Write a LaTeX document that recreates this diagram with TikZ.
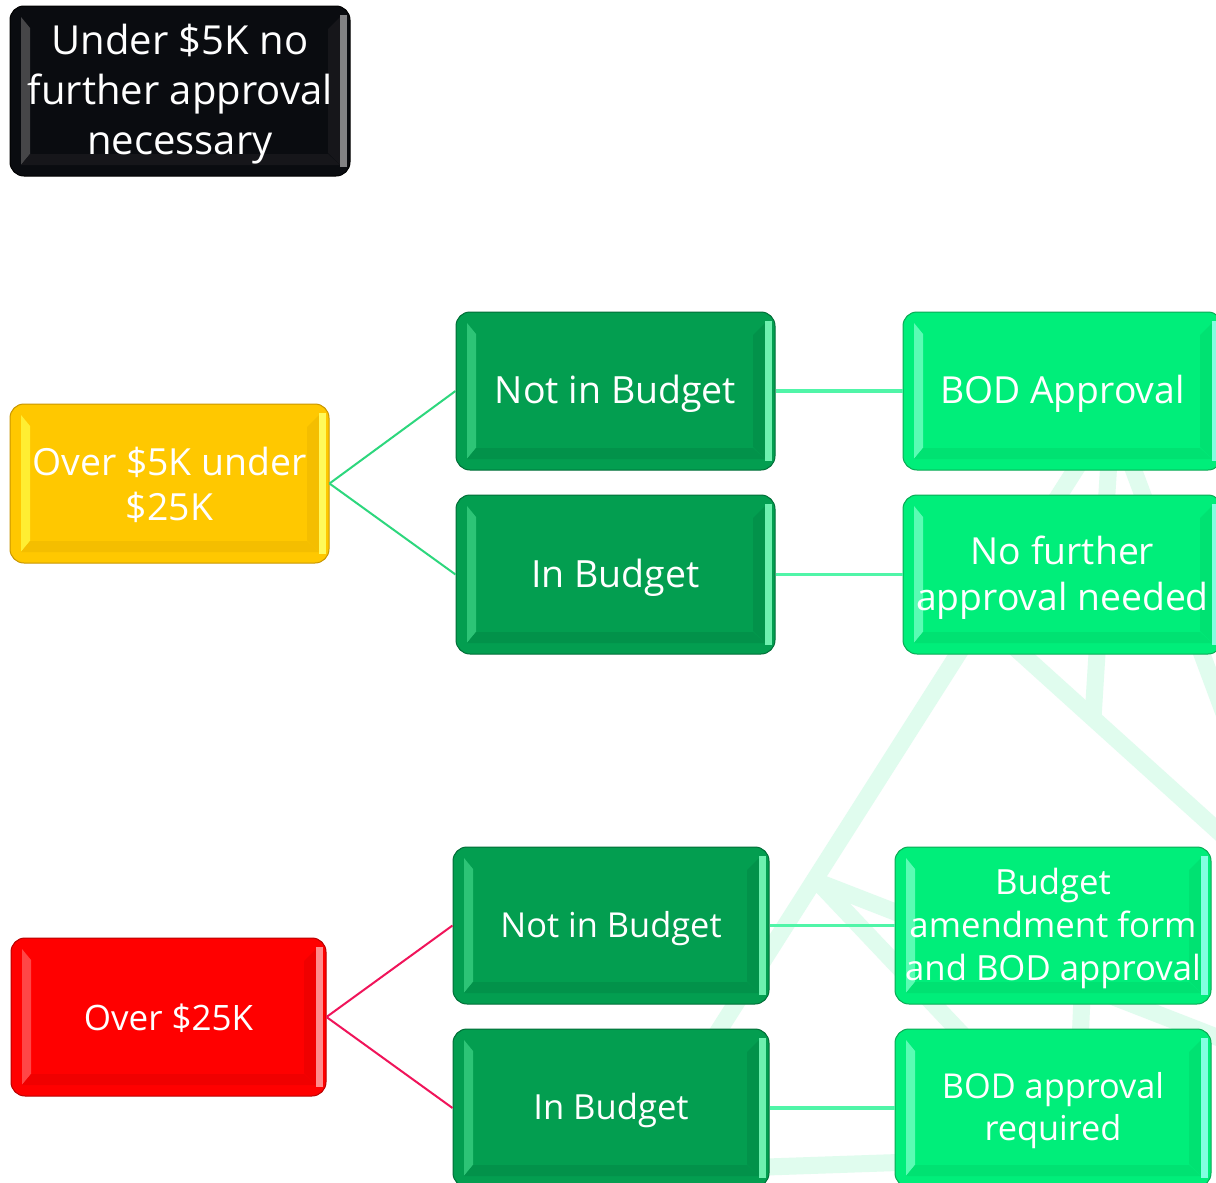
\documentclass[tikz,border=0pt]{standalone}
\usepackage{fontspec}
\setmainfont{Open Sans}
\usetikzlibrary{calc}
\definecolor{mint}{RGB}{224,252,238}
\definecolor{dkg}{RGB}{3,158,80}
\definecolor{dkgL}{RGB}{45,196,118}
\definecolor{dkgR}{RGB}{110,240,175}
\definecolor{dkgD}{RGB}{2,146,74}
\definecolor{dkgB}{RGB}{0,110,55}
\definecolor{ltg}{RGB}{0,238,122}
\definecolor{ltgL}{RGB}{90,252,180}
\definecolor{ltgR}{RGB}{130,255,225}
\definecolor{ltgD}{RGB}{0,226,114}
\definecolor{ltgB}{RGB}{10,170,85}
\definecolor{ylw}{RGB}{255,200,0}
\definecolor{ylwL}{RGB}{255,238,50}
\definecolor{ylwR}{RGB}{255,250,90}
\definecolor{ylwD}{RGB}{244,190,0}
\definecolor{ylwB}{RGB}{200,150,0}
\definecolor{rd}{RGB}{255,0,0}
\definecolor{rdL}{RGB}{255,70,70}
\definecolor{rdR}{RGB}{255,140,140}
\definecolor{rdD}{RGB}{240,0,0}
\definecolor{rdB}{RGB}{185,0,0}
\definecolor{blk}{RGB}{10,12,16}
\definecolor{blkL}{RGB}{70,70,72}
\definecolor{blkR}{RGB}{130,130,132}
\definecolor{blkD}{RGB}{22,22,26}
\definecolor{linkY}{RGB}{45,215,125}
\definecolor{linkG}{RGB}{80,245,168}
\definecolor{linkR}{RGB}{240,20,90}
\tikzset{
  box/.style={rectangle, rounded corners=14pt, inner sep=0pt, line width=1pt},
  bevel/.style n args={3}{path picture={
    \path (path picture bounding box.north west) coordinate (bnw)
          (path picture bounding box.south east) coordinate (bse);
    \fill[#1, sharp corners] ($(bnw)+(11,11)$) -- ($(bnw)+(20,22)$)
        -- ($(bnw|-bse)+(20,-22)$) -- ($(bnw|-bse)+(11,-11)$) -- cycle;
    \fill[#3, sharp corners] ($(bse|-bnw)+(-10,11)$) -- ($(bse|-bnw)+(-22,23)$)
        -- ($(bse)+(-22,-23)$) -- ($(bse)+(-10,-11)$) -- cycle;
    \fill[#3, sharp corners] ($(bnw|-bse)+(11,-11)$) -- ($(bnw|-bse)+(20,-22)$)
        -- ($(bse)+(-22,-22)$) -- ($(bse)+(-10,-11)$) -- cycle;
    \fill[#2, sharp corners] ($(bse|-bnw)+(-10,9)$) rectangle ($(bse)+(-3,-9)$);
  }},
  dkbox/.style={box, fill=dkg, draw=dkgB, bevel={dkgL}{dkgR}{dkgD}},
  ltbox/.style={box, fill=ltg, draw=ltgB, bevel={ltgL}{ltgR}{ltgD}},
  txt/.style={align=center, text=white, inner sep=0pt},
  bgline/.style={draw=mint, line width=17pt},
  linkyl/.style={draw=linkY, line width=2pt},
  linkgr/.style={draw=linkG, line width=3.5pt},
  linkrd/.style={draw=linkR, line width=2pt},
}
\begin{document}
\begin{tikzpicture}[x=1pt, y=-1pt]
\useasboundingbox (0,0) rectangle (1216,1183);
\clip (0,0) rectangle (1216,1183);
\fill[white] (0,0) rectangle (1216,1183);

% decorative background network
\draw[bgline] (1112,412) -- (700,1060);
\draw[bgline] (1112,412) -- (1245,770);
\draw[bgline] (1112,412) -- (1093,718);
\draw[bgline] (940,580) -- (1250,860);
\draw[bgline] (818,882) -- (1250,1050);
\draw[bgline] (818,882) -- (1010,1085);
\draw[bgline] (1084,950) -- (1078,1090);
\draw[bgline] (650,1171) -- (1000,1159);

% boxes
\node[box, fill=blk, draw=black, bevel={blkL}{blkR}{blkD},
      minimum width=340pt, minimum height=170pt,
      label={[txt, yshift=-3pt, font=\fontsize{40}{50}\selectfont]center:{Under \$5K no\\further approval\\necessary}}]
      (under) at (180,91) {};
\node[box, fill=ylw, draw=ylwB, bevel={ylwL}{ylwR}{ylwD},
      minimum width=319pt, minimum height=159pt,
      label={[txt, yshift=-1pt, font=\fontsize{37.4}{45}\selectfont]center:{Over \$5K under\\\$25K}}]
      (mid) at (169.5,483.5) {};
\node[box, fill=rd, draw=rdB, bevel={rdL}{rdR}{rdD},
      minimum width=315pt, minimum height=158pt,
      label={[txt, yshift=-1pt, font=\fontsize{35}{45}\selectfont]center:{Over \$25K}}]
      (high) at (168.5,1017) {};

\node[dkbox, minimum width=319pt, minimum height=158pt,
      label={[txt, yshift=-3pt, font=\fontsize{37.5}{50}\selectfont]center:{Not in Budget}}]
      (nib1) at (615.5,391) {};
\node[dkbox, minimum width=319pt, minimum height=159pt,
      label={[txt, yshift=-3pt, font=\fontsize{37.5}{50}\selectfont]center:{In Budget}}]
      (ib1) at (615.5,574.5) {};
\node[ltbox, minimum width=319pt, minimum height=158pt,
      label={[txt, yshift=-3pt, font=\fontsize{37.3}{50}\selectfont]center:{BOD Approval}}]
      (bod1) at (1062.5,391) {};
\node[ltbox, minimum width=319pt, minimum height=159pt,
      label={[txt, yshift=-3pt, font=\fontsize{37.3}{46}\selectfont]center:{No further\\approval needed}}]
      (nofur) at (1062.5,574.5) {};

\node[dkbox, minimum width=316pt, minimum height=157pt,
      label={[txt, yshift=-3pt, font=\fontsize{34.4}{43}\selectfont]center:{Not in Budget}}]
      (nib2) at (611,925.5) {};
\node[dkbox, minimum width=316pt, minimum height=158pt,
      label={[txt, yshift=-3pt, font=\fontsize{34.6}{43}\selectfont]center:{In Budget}}]
      (ib2) at (611,1108) {};
\node[ltbox, minimum width=316pt, minimum height=157pt,
      label={[txt, yshift=-3pt, font=\fontsize{34.7}{43}\selectfont]center:{Budget\\amendment form\\and BOD approval}}]
      (bam) at (1053,925.5) {};
\node[ltbox, minimum width=316pt, minimum height=158pt,
      label={[txt, yshift=-3pt, font=\fontsize{34.3}{42}\selectfont]center:{BOD approval\\required}}]
      (bodreq) at (1053,1108) {};

% connectors
\draw[linkyl] (mid.east) -- (nib1.west);
\draw[linkyl] (mid.east) -- (ib1.west);
\draw[linkgr] (nib1.east) -- (bod1.west);
\draw[linkgr] (ib1.east) -- (nofur.west);
\draw[linkrd] (high.east) -- (nib2.west);
\draw[linkrd] (high.east) -- (ib2.west);
\draw[linkgr] (nib2.east) -- (bam.west);
\draw[linkgr] (ib2.east) -- (bodreq.west);
\end{tikzpicture}
\end{document}
